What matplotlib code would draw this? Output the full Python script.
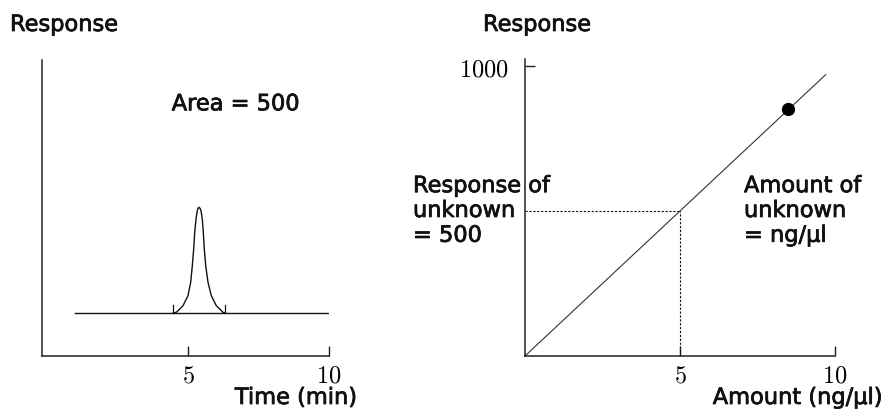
import matplotlib
matplotlib.use("Agg")
import matplotlib.pyplot as plt
import matplotlib.patheffects as pe
from matplotlib.transforms import blended_transform_factory

plt.rcParams["font.family"] = ["DejaVu Sans"]
plt.rcParams["mathtext.fontset"] = "cm"

# --- Chromatogram (left) -------------------------------------------------
time_ticks = [5, 10]
baseline_time = [1.0, 10.0]
baseline_level = 14.45
peak_time = [4.47, 4.585, 4.823, 5.000, 5.096, 5.153, 5.202, 5.238, 5.284,
             5.330, 5.355, 5.390, 5.426, 5.461, 5.507, 5.543, 5.578, 5.628,
             5.709, 5.827, 6.004, 6.241, 6.323]
peak_signal = [14.45, 14.76, 16.99, 20.37, 24.90, 30.51, 36.15, 41.79, 46.28,
               49.09, 49.90, 50.24, 49.90, 49.09, 46.28, 41.79, 36.15, 30.51,
               24.90, 20.37, 16.99, 14.76, 14.45]
integration_marks = [4.47, 6.32]
mark_top = 17.2
peak_area = 500

# --- Calibration curve (right) -------------------------------------------
amount_ticks = [5, 10]
response_ticks = [1000]
calib_amount = [0.0, 9.7]
calib_response = [0.0, 970.0]
standard_amount = [8.5]
standard_response = [850.0]
unknown_response = 500
unknown_amount = 5

W, H = 883, 410
fig = plt.figure(figsize=(W / 100, H / 100), dpi=100)
fig.patch.set_facecolor("white")

TXT = 16.2
INK = "#111111"
HEAVY = [pe.withStroke(linewidth=0.55, foreground=INK)]


def style_axes(ax):
    for side in ("top", "right"):
        ax.spines[side].set_visible(False)
    for side in ("left", "bottom"):
        ax.spines[side].set_linewidth(1.1)
        ax.spines[side].set_color("#222222")


def label(x, y, s, **kw):
    kw.setdefault("fontsize", TXT)
    kw.setdefault("color", INK)
    t = fig.text(x, y, s, **kw) if "transform" not in kw else kw.pop("ax").text(x, y, s, **kw)
    t.set_path_effects(HEAVY)
    return t


# Left panel
ax1 = fig.add_axes([42 / W, 53 / H, 287 / W, 296 / H])
style_axes(ax1)
ax1.set_xlim(-0.177, 10)
ax1.set_ylim(0, 100)
ax1.set_yticks([])
ax1.set_xticks(time_ticks)
ax1.set_xticklabels([f"${t}$" for t in time_ticks])
ax1.tick_params(axis="x", direction="in", length=7, width=1.0, pad=5,
                labelsize=17.5, color="#222222")
ax1.plot(baseline_time, [baseline_level] * 2, color=INK, lw=1.0)
ax1.plot(peak_time, peak_signal, color=INK, lw=1.0, solid_joinstyle="round")
for t in integration_marks:
    ax1.plot([t, t], [baseline_level, mark_top], color=INK, lw=0.9)
label(0.452, 0.83, f"Area = {peak_area}", ax=ax1, transform=ax1.transAxes,
      ha="left", va="baseline")

# Right panel
ax2 = fig.add_axes([525 / W, 53 / H, 310 / W, 297 / H])
style_axes(ax2)
ax2.set_xlim(0, 10)
ax2.set_ylim(0, 1024)
ax2.set_xticks(amount_ticks)
ax2.set_xticklabels([f"${a}$" for a in amount_ticks])
ax2.set_yticks(response_ticks)
ax2.set_yticklabels([f"${r}$" for r in response_ticks])
ax2.tick_params(axis="x", direction="in", length=7, width=1.0, pad=5,
                labelsize=17.5, color="#222222")
ax2.tick_params(axis="y", direction="in", length=7, width=1.0, pad=12,
                labelsize=17.5, color="#222222")
ax2.plot(calib_amount, calib_response, color="#333333", lw=0.8,
         clip_on=False)
ax2.plot([0, unknown_amount], [unknown_response] * 2, color=INK, lw=0.8,
         linestyle=(0, (2, 1.5)))
ax2.plot([unknown_amount] * 2, [0, unknown_response], color=INK, lw=0.8,
         linestyle=(0, (2, 1.5)))
ax2.plot(standard_amount, standard_response, "o", color="black",
         markersize=8.5, clip_on=False, zorder=5)

tr = blended_transform_factory(ax2.transAxes, ax2.transData)
label((413 - 525) / 310, unknown_response,
      f"Response of\nunknown\n= {unknown_response}", ax=ax2, transform=tr,
      ha="left", va="center", linespacing=1.3)
label((744 - 525) / 310, unknown_response,
      "Amount of\nunknown\n= ng/µl", ax=ax2, transform=tr,
      ha="left", va="center", linespacing=1.3)

# Axis titles
label(10 / W, 1 - 32 / H, "Response", ha="left", va="baseline")
label(483 / W, 1 - 32 / H, "Response", ha="left", va="baseline")
label(357 / W, 1 - 405 / H, "Time (min)", ha="right", va="baseline")
label(882 / W, 1 - 405 / H, "Amount (ng/µl)", ha="right", va="baseline")

fig.savefig("out.png", dpi=100, facecolor="white")
